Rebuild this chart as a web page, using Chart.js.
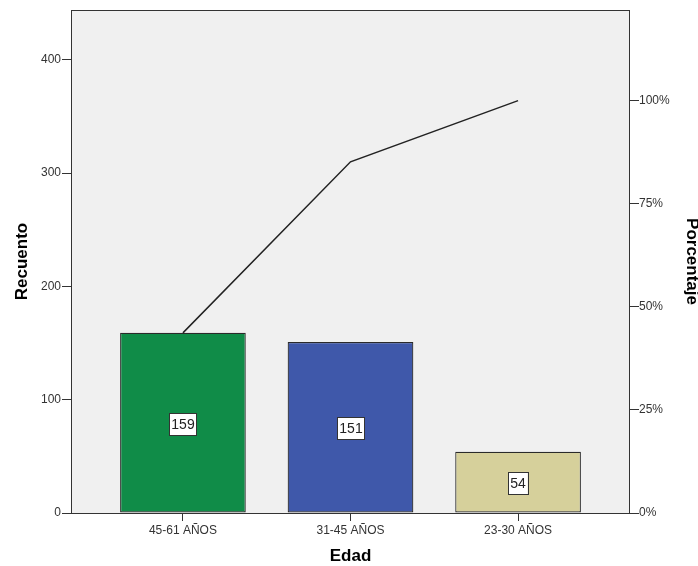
<!DOCTYPE html>
<html lang="es">
<head>
    <meta charset="UTF-8">
    <title>Edad - Recuento</title>
    <script src="https://cdn.jsdelivr.net/npm/chart.js"></script>
    <style>
        html, body {
            margin: 0;
            padding: 0;
            background: #ffffff;
        }
        .chart-box {
            position: relative;
            width: 698px;
            height: 566px;
        }
    </style>
</head>
<body>

    <div class="chart-box">
        <canvas id="paretoChart"></canvas>
    </div>

    <script>
        // Data
        const categories = ["45-61 AÑOS", "31-45 AÑOS", "23-30 AÑOS"];
        const counts = [159, 151, 54];
        const countTicks = [0, 100, 200, 300, 400];
        const percentTicks = [0, 25, 50, 75, 100];
        const countMax = 444;

        // Cumulative percentage for the pareto line
        const total = counts.reduce((sum, val) => sum + val, 0);
        let running = 0;
        const cumulativePct = counts.map(v => {
            running += v;
            return running / total * 100;
        });

        Chart.defaults.font.family = "'Liberation Sans', Arial, sans-serif";
        Chart.defaults.color = "#333";

        const axisColor = "#333";
        const titleFont = { size: 17, weight: "bold", lineHeight: 1 };

        // grey plot background + frame
        const framePlugin = {
            id: "frame",
            beforeDraw(chart) {
                const { ctx, chartArea: a } = chart;
                ctx.save();
                ctx.fillStyle = "#f0f0f0";
                ctx.fillRect(a.left, a.top, a.right - a.left, a.bottom - a.top);
                ctx.restore();
            },
            afterDraw(chart) {
                const { ctx, chartArea: a } = chart;
                ctx.save();
                ctx.strokeStyle = axisColor;
                ctx.lineWidth = 1;
                ctx.strokeRect(a.left + 0.5, a.top + 0.5, a.right - a.left - 1, a.bottom - a.top);
                ctx.restore();
            }
        };

        // boxed count in the middle of each bar
        const boxLabelPlugin = {
            id: "boxLabels",
            afterDatasetsDraw(chart) {
                const { ctx } = chart;
                const meta = chart.getDatasetMeta(0);
                ctx.save();
                ctx.font = "14px 'Liberation Sans', Arial, sans-serif";
                ctx.textAlign = "center";
                ctx.textBaseline = "middle";
                meta.data.forEach((bar, i) => {
                    const text = String(counts[i]);
                    const w = ctx.measureText(text).width + 4;
                    const h = 22;
                    const cx = Math.round(bar.x);
                    const cy = Math.round((bar.y + bar.base) / 2) + 1;
                    ctx.fillStyle = "#ffffff";
                    ctx.fillRect(cx - w / 2, cy - h / 2, w, h);
                    ctx.strokeStyle = "#333";
                    ctx.lineWidth = 1;
                    ctx.strokeRect(Math.round(cx - w / 2) + 0.5, cy - h / 2 + 0.5, Math.round(w), h);
                    ctx.fillStyle = "#222";
                    ctx.fillText(text, cx, cy + 1);
                });
                ctx.restore();
            }
        };

        const ctx = document.getElementById("paretoChart").getContext("2d");
        new Chart(ctx, {
            type: "bar",
            data: {
                datasets: [
                    {
                        type: "bar",
                        label: "Recuento",
                        data: counts.map((v, i) => ({ x: i, y: v })),
                        backgroundColor: ["#108c48", "#3f58aa", "#d6d09b"],
                        borderColor: "#2a2a2a",
                        borderWidth: 1.2,
                        borderSkipped: false,
                        categoryPercentage: 1,
                        barPercentage: 0.75,
                        yAxisID: "y",
                        order: 2
                    },
                    {
                        type: "line",
                        label: "Porcentaje",
                        data: cumulativePct.map((v, i) => ({ x: i, y: v })),
                        borderColor: "#222",
                        borderWidth: 1.5,
                        pointRadius: 0,
                        tension: 0,
                        fill: false,
                        yAxisID: "y1",
                        order: 1
                    }
                ]
            },
            options: {
                responsive: true,
                maintainAspectRatio: false,
                animation: false,
                layout: { padding: { top: 10 } },
                plugins: {
                    legend: { display: false },
                    tooltip: { enabled: false }
                },
                scales: {
                    x: {
                        type: "linear",
                        position: "bottom",
                        offset: false,
                        min: -0.668,
                        max: 2.668,
                        afterBuildTicks: s => { s.ticks = categories.map((c, i) => ({ value: i })); },
                        afterFit: s => { s.height = 53; },
                        ticks: {
                            callback: v => categories[v],
                            font: { size: 12 },
                            padding: 2,
                            maxRotation: 0,
                            autoSkip: false
                        },
                        grid: { offset: false, drawOnChartArea: false, tickLength: 8, color: axisColor },
                        border: { display: false },
                        title: {
                            display: true,
                            text: "Edad",
                            color: "#000",
                            font: titleFont,
                            padding: { top: 0, bottom: 1 }
                        }
                    },
                    y: {
                        position: "left",
                        min: 0,
                        max: countMax,
                        afterBuildTicks: s => { s.ticks = countTicks.map(v => ({ value: v })); },
                        afterFit: s => { s.width = 71; },
                        ticks: { font: { size: 12 }, padding: 1 },
                        grid: { drawOnChartArea: false, tickLength: 9, color: axisColor },
                        border: { display: false },
                        title: {
                            display: true,
                            text: "Recuento",
                            color: "#000",
                            font: titleFont,
                            padding: { top: 14, bottom: 0 }
                        }
                    },
                    y1: {
                        position: "right",
                        min: 0,
                        max: countMax / total * 100,
                        afterBuildTicks: s => { s.ticks = percentTicks.map(v => ({ value: v })); },
                        afterFit: s => { s.width = 68; },
                        ticks: { callback: v => v + "%", font: { size: 12 }, padding: 0 },
                        grid: { drawOnChartArea: false, tickLength: 9, color: axisColor },
                        border: { display: false },
                        title: {
                            display: true,
                            text: "Porcentaje",
                            color: "#000",
                            font: titleFont,
                            padding: { top: -2, bottom: 0 }
                        }
                    }
                }
            },
            plugins: [framePlugin, boxLabelPlugin]
        });
    </script>

</body>
</html>
